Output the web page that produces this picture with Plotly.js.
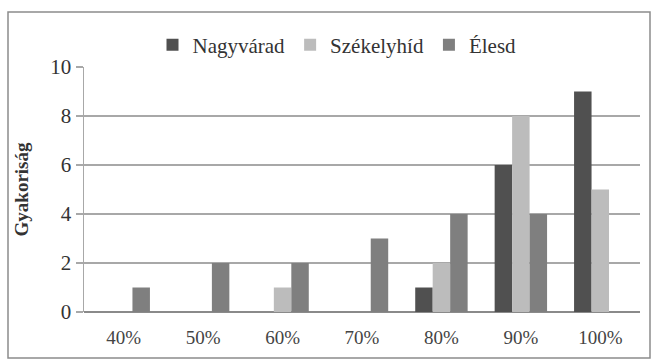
<!DOCTYPE html>
<html>
<head>
<meta charset="utf-8">
<script src="https://cdn.plot.ly/plotly-3.0.1.min.js"></script>
<style>
html,body{margin:0;padding:0;background:#fff;}
#chart{width:658px;height:363px;}
</style>
</head>
<body>
<div id="chart"></div>
<script>
const categories = ["40%", "50%", "60%", "70%", "80%", "90%", "100%"];
const nagyvarad = [0, 0, 0, 0, 1, 6, 9];
const szekelyhid = [0, 0, 1, 0, 2, 8, 5];
const elesd = [1, 2, 2, 3, 4, 4, 0];
const seriesNames = ["Nagyvárad", "Székelyhíd", "Élesd"];
const seriesColors = ["#505050", "#bcbcbc", "#7f7f7f"];
const yTicks = [0, 2, 4, 6, 8, 10];

const FF = "'Times New Roman', 'Liberation Serif', 'DejaVu Serif', serif";

const series = [nagyvarad, szekelyhid, elesd];
const traces = series.map((vals, i) => ({
  type: "bar",
  x: categories,
  y: vals,
  name: seriesNames[i],
  marker: {color: seriesColors[i], line: {width: 0}},
  hoverinfo: "x+y+name"
}));

const L = 84, R = 18, T = 67, B = 51;
const W = 658, H = 363;
const pw = W - L - R, ph = H - T - B;
const px = v => (v - L) / pw;
const py = v => (H - B - v) / ph;

const layout = {
  width: W, height: H,
  margin: {l: L, r: R, t: T, b: B, pad: 0},
  paper_bgcolor: "#ffffff",
  plot_bgcolor: "#ffffff",
  font: {family: FF, color: "#333333"},
  barmode: "group",
  bargap: 0.34,
  bargroupgap: 0,
  showlegend: true,
  legend: {
    orientation: "h",
    x: px(337), xanchor: "center",
    y: py(45), yanchor: "middle",
    font: {size: 21, color: "#333333", family: FF},
    traceorder: "normal",
    itemwidth: 30,
    bgcolor: "rgba(0,0,0,0)"
  },
  xaxis: {
    type: "category",
    categoryorder: "array",
    categoryarray: categories,
    showgrid: false,
    showline: false,
    ticks: "",
    tickfont: {size: 19, color: "#444444", family: FF},
    ticklabelstandoff: 12,
    zeroline: false,
    fixedrange: true
  },
  yaxis: {
    range: [0, 10],
    tickvals: yTicks,
    ticktext: yTicks.map(String),
    showgrid: true,
    gridcolor: "#a8a8a8",
    gridwidth: 1.5,
    showline: true,
    linecolor: "#a8a8a8",
    linewidth: 1.5,
    ticks: "outside",
    ticklen: 7,
    tickcolor: "#a8a8a8",
    tickwidth: 1.5,
    tickfont: {size: 21, color: "#333333", family: FF},
    zeroline: true,
    zerolinecolor: "#8a8a8a",
    zerolinewidth: 2,
    title: {text: "Gyakoriság", font: {size: 19, color: "#333333", family: FF, weight: "bold"}, standoff: 16},
    fixedrange: true
  },
  shapes: [{
    type: "rect", xref: "paper", yref: "paper",
    x0: px(8), x1: px(650), y0: py(358), y1: py(12),
    line: {color: "#8c8c8c", width: 1.5},
    fillcolor: "rgba(0,0,0,0)",
    layer: "below"
  }]
};

Plotly.newPlot("chart", traces, layout, {displayModeBar: false, staticPlot: true});
</script>
</body>
</html>
